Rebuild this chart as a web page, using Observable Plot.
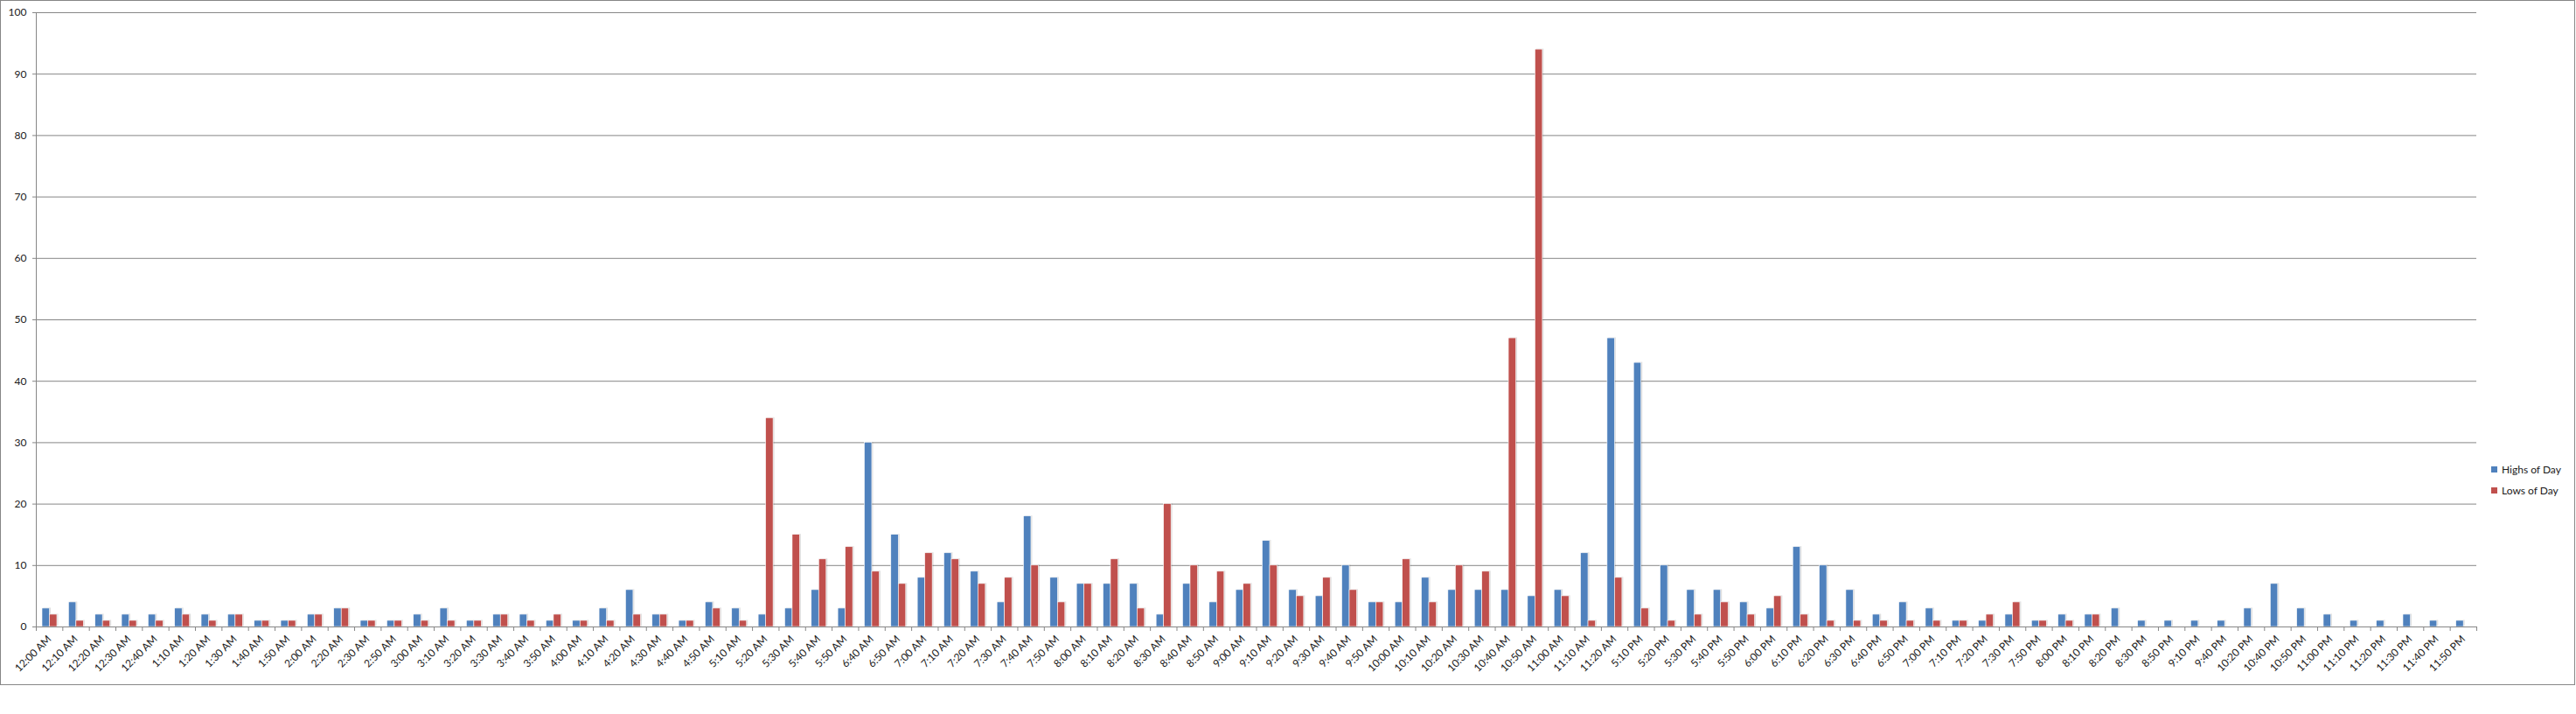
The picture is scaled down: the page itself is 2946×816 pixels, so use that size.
<!DOCTYPE html>
<html><head><meta charset="utf-8">
<script src="https://cdn.jsdelivr.net/npm/d3@7"></script>
<script src="https://cdn.jsdelivr.net/npm/@observablehq/plot@0.6"></script>
<style>
body{margin:0;background:#fff;font-family:Lato,sans-serif;}
#chart{position:relative;width:2946px;height:816px;}
#border{position:absolute;left:0;top:0;width:2943px;height:781px;border:1px solid #868686;pointer-events:none;}
#legend{position:absolute;left:2849px;top:524px;font:12px Lato,sans-serif;color:#1a1a1a;}
.item{display:flex;align-items:center;height:24px;white-space:nowrap;}
.sw{width:7px;height:7px;margin-right:5px;}
</style></head><body>
<div id="chart"><div id="border"></div><div id="legend"></div></div>
<script>
const categories = ["12:00 AM","12:10 AM","12:20 AM","12:30 AM","12:40 AM","1:10 AM","1:20 AM","1:30 AM","1:40 AM","1:50 AM","2:00 AM","2:20 AM","2:30 AM","2:50 AM","3:00 AM","3:10 AM","3:20 AM","3:30 AM","3:40 AM","3:50 AM","4:00 AM","4:10 AM","4:20 AM","4:30 AM","4:40 AM","4:50 AM","5:10 AM","5:20 AM","5:30 AM","5:40 AM","5:50 AM","6:40 AM","6:50 AM","7:00 AM","7:10 AM","7:20 AM","7:30 AM","7:40 AM","7:50 AM","8:00 AM","8:10 AM","8:20 AM","8:30 AM","8:40 AM","8:50 AM","9:00 AM","9:10 AM","9:20 AM","9:30 AM","9:40 AM","9:50 AM","10:00 AM","10:10 AM","10:20 AM","10:30 AM","10:40 AM","10:50 AM","11:00 AM","11:10 AM","11:20 AM","5:10 PM","5:20 PM","5:30 PM","5:40 PM","5:50 PM","6:00 PM","6:10 PM","6:20 PM","6:30 PM","6:40 PM","6:50 PM","7:00 PM","7:10 PM","7:20 PM","7:30 PM","7:50 PM","8:00 PM","8:10 PM","8:20 PM","8:30 PM","8:50 PM","9:10 PM","9:40 PM","10:20 PM","10:40 PM","10:50 PM","11:00 PM","11:10 PM","11:20 PM","11:30 PM","11:40 PM","11:50 PM"];
const highs = [3,4,2,2,2,3,2,2,1,1,2,3,1,1,2,3,1,2,2,1,1,3,6,2,1,4,3,2,3,6,3,30,15,8,12,9,4,18,8,7,7,7,2,7,4,6,14,6,5,10,4,4,8,6,6,6,5,6,12,47,43,10,6,6,4,3,13,10,6,2,4,3,1,1,2,1,2,2,3,1,1,1,1,3,7,3,2,1,1,2,1,1];
const lows = [2,1,1,1,1,2,1,2,1,1,2,3,1,1,1,1,1,2,1,2,1,1,2,2,1,3,1,34,15,11,13,9,7,12,11,7,8,10,4,7,11,3,20,10,9,7,10,5,8,6,4,11,4,10,9,47,94,5,1,8,3,1,2,4,2,5,2,1,1,1,1,1,1,2,4,1,1,2,null,null,null,null,null,null,null,null,null,null,null,null,null,null];
const seriesNames = ["Highs of Day","Lows of Day"];
const seriesColors = ["#4F81BD","#C0504D"];
const yTicks = [0,10,20,30,40,50,60,70,80,90,100];

const highRows = categories.map((t,i)=>({time:t, value:highs[i]})).filter(d=>d.value!=null);
const lowRows = categories.map((t,i)=>({time:t, value:lows[i]})).filter(d=>d.value!=null);

const W=2946, H=782, mL=41, mR=114, mT=14, mB=66;
const bw=(W-mL-mR)/categories.length;
const barW=8.5, gapL=7;
const insH={insetLeft:gapL, insetRight:bw-gapL-barW};
const insL={insetLeft:gapL+barW, insetRight:bw-gapL-2*barW};

const plot = Plot.plot({
  width:W, height:H, marginLeft:mL, marginRight:mR, marginTop:mT, marginBottom:mB,
  style:{fontFamily:"Lato, sans-serif", fontSize:"12px", color:"#1a1a1a", background:"transparent", overflow:"visible"},
  x:{domain:categories, padding:0, label:null, axis:null},
  y:{domain:[0,100], label:null, axis:null},
  marks:[
    Plot.gridY(yTicks, {stroke:"#868686", strokeOpacity:1}),
    Plot.barY(highRows, {x:"time", y:"value", fill:"#000", fillOpacity:0.13, dx:1.5, dy:-0.5, ...insH}),
    Plot.barY(lowRows, {x:"time", y:"value", fill:"#000", fillOpacity:0.13, dx:1.5, dy:-0.5, ...insL}),
    Plot.barY(highRows, {x:"time", y:"value", fill:seriesColors[0], stroke:"white", strokeWidth:0.6, ...insH}),
    Plot.barY(lowRows, {x:"time", y:"value", fill:seriesColors[1], stroke:"white", strokeWidth:0.6, ...insL}),
    Plot.axisY({ticks:yTicks, tickSize:4, tickPadding:7, stroke:"#868686", fill:"#1a1a1a", label:null}),
    Plot.frame({anchor:"left", stroke:"#868686"}),
    Plot.frame({anchor:"bottom", stroke:"#868686"}),
    Plot.axisX({tickSize:5, tickFormat:()=>"", dx:-bw/2, stroke:"#868686", label:null}),
    Plot.axisX({ticks:[categories[categories.length-1]], tickSize:5, tickFormat:()=>"", dx:bw/2, stroke:"#868686", label:null}),
    Plot.axisX({tickSize:0, tickPadding:12, tickRotate:-45, fill:"#1a1a1a", label:null})
  ]
});
document.getElementById("chart").prepend(plot);

const legend = document.getElementById("legend");
seriesNames.forEach((name,i)=>{
  const item=document.createElement("div"); item.className="item";
  const sw=document.createElement("div"); sw.className="sw"; sw.style.background=seriesColors[i];
  const tx=document.createElement("span"); tx.textContent=name;
  item.append(sw,tx); legend.append(item);
});
</script>
</body></html>
